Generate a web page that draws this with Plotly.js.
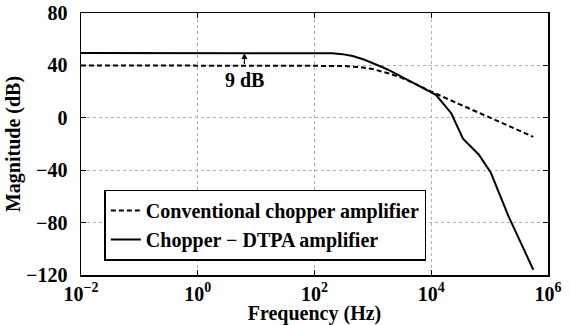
<!DOCTYPE html>
<html>
<head>
<meta charset="utf-8">
<script src="https://cdn.plot.ly/plotly-3.0.1.min.js"></script>
<style>
html,body{margin:0;padding:0;background:#fff;}
#chart{width:570px;height:325px;}
</style>
</head>
<body>
<div id="chart"></div>
<script>
// Frequency (Hz) and magnitude (dB)
var convFreq = [0.01, 1, 100, 300, 600, 1000, 2000, 3000, 5000, 10000, 30000, 100000, 300000, 560000];
var convMag  = [40, 40, 40, 39.6, 38.7, 37.2, 33.5, 30.8, 26.5, 20, 10.5, 0, -9.5, -14.5];

var dtpaFreq = [0.01, 1, 100, 200, 300, 450, 700, 1000, 1500, 2000, 3000, 4000, 7000, 10000, 12000, 22000, 35000, 65000, 105000, 210000, 560000];
var dtpaMag  = [49.5, 49.5, 49.5, 49.3, 48.6, 47.2, 44.5, 41.8, 38.4, 35.8, 31.8, 29, 23.5, 19.5, 17.5, 3.5, -16, -28, -42, -75, -116];

var seriesNames = ['Conventional chopper amplifier', 'Chopper \u2212 DTPA amplifier'];

var xTickVals = [0.01, 1, 100, 10000, 1000000];
var xTickText = ['10<sup>\u22122</sup>', '10<sup>0</sup>', '10<sup>2</sup>', '10<sup>4</sup>', '10<sup>6</sup>'];
var yTickVals = [-120, -80, -40, 0, 40, 80];

var gainNoteFreq = 6.3;
var gainNoteLow = 40;
var gainNoteHigh = 49.5;
var gainNoteText = '9 dB';

var FONT = 'Liberation Serif, Times New Roman, Times, serif';

var traces = [
  {
    x: convFreq, y: convMag, type: 'scatter', mode: 'lines',
    name: seriesNames[0],
    line: {color: '#000', width: 2, dash: '5px,3px'}
  },
  {
    x: dtpaFreq, y: dtpaMag, type: 'scatter', mode: 'lines',
    name: seriesNames[1],
    line: {color: '#000', width: 2}
  }
];

var layout = {
  width: 570, height: 325,
  margin: {l: 81, r: 22, t: 13, b: 50},
  paper_bgcolor: '#fff', plot_bgcolor: '#fff',
  font: {family: FONT, size: 20, color: '#000', weight: 'bold'},
  showlegend: true,
  legend: {
    x: 0.05, y: 0.326, xanchor: 'left', yanchor: 'top',
    bgcolor: '#fff', bordercolor: '#000', borderwidth: 1.5,
    font: {family: FONT, size: 20, color: '#000', weight: 'bold'},
    itemwidth: 30, tracegroupgap: 0
  },
  xaxis: {
    type: 'log',
    range: [-2, 6],
    tickmode: 'array', tickvals: xTickVals, ticktext: xTickText,
    ticks: 'inside', ticklen: 5, tickwidth: 1, tickcolor: '#000',
    showline: true, linecolor: '#000', linewidth: 1.5, mirror: 'ticks',
    showgrid: true, gridcolor: '#b0b0b0', gridwidth: 1, griddash: 'dot',
    zeroline: false,
    tickfont: {family: FONT, size: 20, color: '#000', weight: 'bold'},
    title: {text: 'Frequency (Hz)', font: {family: FONT, size: 20, color: '#000', weight: 'bold'}, standoff: 3}
  },
  yaxis: {
    range: [-120, 80],
    tickmode: 'array', tickvals: yTickVals,
    ticks: 'inside', ticklen: 5, tickwidth: 1, tickcolor: '#000',
    showline: true, linecolor: '#000', linewidth: 1.5, mirror: 'ticks',
    showgrid: true, gridcolor: '#b0b0b0', gridwidth: 1, griddash: 'dot',
    zeroline: false,
    ticklabelstandoff: 8,
    tickfont: {family: FONT, size: 20, color: '#000', weight: 'bold'},
    title: {text: 'Magnitude (dB)', font: {family: FONT, size: 20, color: '#000', weight: 'bold'}, standoff: 0}
  },
  annotations: [
    {
      x: Math.log10(gainNoteFreq), y: gainNoteHigh,
      ax: Math.log10(gainNoteFreq), ay: gainNoteLow,
      xref: 'x', yref: 'y', axref: 'x', ayref: 'y',
      showarrow: true, arrowhead: 2, arrowsize: 1, arrowwidth: 1.2,
      arrowcolor: '#000', standoff: 0, startstandoff: 0, text: ''
    },
    {
      x: Math.log10(gainNoteFreq), y: 29, xref: 'x', yref: 'y',
      showarrow: false, text: gainNoteText,
      font: {family: FONT, size: 20, color: '#000', weight: 'bold'}
    }
  ]
};

Plotly.newPlot('chart', traces, layout, {displayModeBar: false, staticPlot: true});
</script>
</body>
</html>
